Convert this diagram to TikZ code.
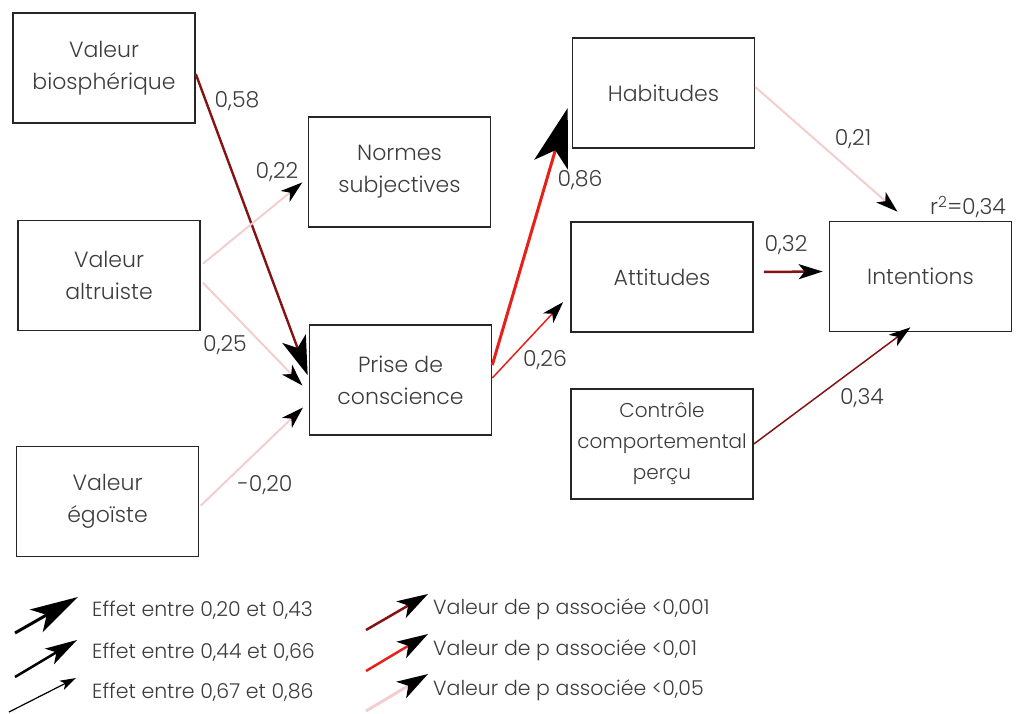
\documentclass[tikz,border=0pt]{standalone}
\usepackage{fontspec}
\setmainfont{Poppins Light}
\usetikzlibrary{arrows.meta}
\definecolor{pone}{RGB}{132,20,20}
\definecolor{pred}{RGB}{232,32,26}
\definecolor{ppink}{RGB}{244,206,206}
\definecolor{txtgray}{RGB}{60,60,60}
\tikzset{
  var/.style={shape=rectangle, draw=black!85, line width=1.6pt, minimum width=182pt,
    minimum height=110pt, inner sep=0pt, align=center, text=txtgray,
    font=\fontsize{22}{32}\selectfont},
  coef/.style={text=txtgray, inner sep=0pt, font=\fontsize{22}{26}\selectfont},
  leg/.style={text=txtgray, inner sep=0pt, anchor=west, font=\fontsize{20.5}{24}\selectfont},
  pointe/.style n args={3}{-{Stealth[length=#1pt, width=#2pt, inset=#3pt, color=black]}}}

\begin{document}
\begin{tikzpicture}[x=1pt, y=-1pt]
    \useasboundingbox (0,0) rectangle (1018,713);

    \node[var] (bio) at (104,68) {Valeur\\biosphérique};
    \node[var] (alt) at (109,275.5) {Valeur\\altruiste};
    \node[var] (ego) at (107.5,501.5) {Valeur\\égoïste};
    \node[var] (norm) at (399.5,172) {Normes\\subjectives};
    \node[var] (prise) at (400.5,380) {Prise de\\conscience};
    \node[var] (hab) at (663.5,93) {Habitudes};
    \node[var] (att) at (662,277) {Attitudes};
    \node[var, font=\fontsize{20}{31}\selectfont] (ctrl) at (662,444) {Contrôle\\comportemental\\perçu};
    \node[var] (int) at (920.5,276.5) {Intentions};

    \draw[pone, line width=2.4pt, pointe={39}{25}{10}, shorten >=3pt] ([yshift=-6pt]bio.east) -- ([yshift=2pt]prise.west);
    \draw[ppink, line width=2pt, pointe={22}{14}{6}, shorten <=3pt, shorten >=7pt] ([yshift=10pt]alt.east) -- ([yshift=-6pt]norm.west);
    \draw[ppink, line width=2pt, pointe={22}{14}{6}, shorten <=3pt, shorten >=9pt] ([yshift=-5pt]alt.east) -- ([yshift=-12pt]prise.west);
    \draw[ppink, line width=2pt, pointe={22}{14}{6}, shorten <=2pt, shorten >=8pt] ([yshift=-5.5pt]ego.east) -- ([yshift=-22pt]prise.west);
    \draw[pred, line width=3pt, pointe={59}{35}{15}] ([yshift=15pt]prise.east) -- ([xshift=-4pt, yshift=-15pt]hab.west);
    \draw[pred, line width=1.5pt, pointe={22}{14}{6}] ([yshift=2pt]prise.east) -- ([xshift=-7pt, yshift=-25pt]att.west);
    \draw[ppink, line width=2pt, pointe={22}{14}{6}] ([yshift=6pt]hab.east) -- ([xshift=-23pt, yshift=9pt]int.north);
    \draw[pone, line width=2.5pt, pointe={24}{15}{6}, shorten <=10pt, shorten >=6pt] ([yshift=5pt]att.east) -- ([yshift=5pt]int.west);
    \draw[pone, line width=1.5pt, pointe={22}{14}{6}] (ctrl.east) -- ([xshift=-10pt, yshift=5pt]int.south);

    \node[coef] (c58) at (237,101) {0,58};
    \node[coef] (c22) at (277,172) {0,22};
    \node[coef] (c25) at (225,345) {0,25};
    \node[coef] (c20) at (265,485) {-0,20};
    \node[coef] (c86) at (580,180) {0,86};
    \node[coef] (c26) at (545,360) {0,26};
    \node[coef] (c21) at (853,139) {0,21};
    \node[coef] (c32) at (786,245) {0,32};
    \node[coef] (c34) at (862,398) {0,34};
    \node[coef] (r2) at (968,207) {r\textsuperscript{2}=0,34};

    % legende
    \coordinate (e1s) at (15,633);
    \coordinate (e1t) at (78,597);
    \coordinate (e2s) at (15,677);
    \coordinate (e2t) at (77,640);
    \coordinate (e3s) at (9,712);
    \coordinate (e3t) at (76,678);
    \coordinate (p1s) at (366,630);
    \coordinate (p1t) at (428,594);
    \coordinate (p2s) at (366,671);
    \coordinate (p2t) at (428,634);
    \coordinate (p3s) at (366,711);
    \coordinate (p3t) at (428,674);

    \draw[black, line width=3pt, pointe={48}{26}{12}] (e1s) -- (e1t);
    \draw[black, line width=2.5pt, pointe={32}{18}{8}] (e2s) -- (e2t);
    \draw[black, line width=1.2pt, pointe={16}{10}{4}] (e3s) -- (e3t);
    \draw[pone, line width=2.5pt, pointe={31}{19}{8}] (p1s) -- (p1t);
    \draw[pred, line width=2.5pt, pointe={31}{19}{8}] (p2s) -- (p2t);
    \draw[ppink, line width=3pt, pointe={31}{19}{8}] (p3s) -- (p3t);

    \node[leg] (l1) at (92,610) {Effet entre 0,20 et 0,43};
    \node[leg] (l2) at (92,652) {Effet entre 0,44 et 0,66};
    \node[leg] (l3) at (92,692) {Effet entre 0,67 et 0,86};
    \node[leg] (l4) at (433,609) {Valeur de p associée <0,001};
    \node[leg] (l5) at (433,650) {Valeur de p associée <0,01};
    \node[leg] (l6) at (433,690) {Valeur de p associée <0,05};

\end{tikzpicture}
\end{document}
